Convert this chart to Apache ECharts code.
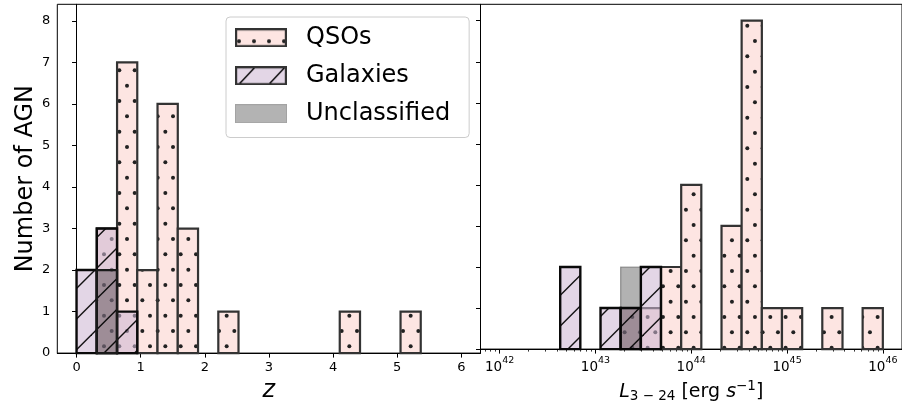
<!DOCTYPE html>
<html><head><meta charset="utf-8">
<script src="https://cdn.jsdelivr.net/npm/echarts@6/dist/echarts.min.js"></script>
<style>html,body{margin:0;padding:0;background:#fff}#c{width:902px;height:408px}</style>
</head><body><div id="c"></div>
<script>
// ---- data ----
const zEdges = [0, 0.316, 0.632, 0.947, 1.263, 1.579, 1.895, 2.211, 2.526, 2.842, 3.158, 3.474, 3.789, 4.105, 4.421, 4.737, 5.053, 5.368, 5.684, 6.0];
const zQSO  = [0, 3, 7, 2, 6, 3, 0, 1, 0, 0, 0, 0, 0, 1, 0, 0, 1, 0, 0];
const zGal  = [2, 3, 1, 0, 0, 0, 0, 0, 0, 0, 0, 0, 0, 0, 0, 0, 0, 0, 0];
const zUnc  = [0, 2, 0, 0, 0, 0, 0, 0, 0, 0, 0, 0, 0, 0, 0, 0, 0, 0, 0];
const logLEdges = [42.000, 42.211, 42.421, 42.632, 42.842, 43.053, 43.263, 43.474, 43.684, 43.895, 44.105, 44.316, 44.526, 44.737, 44.947, 45.158, 45.368, 45.579, 45.789, 46.000];
const lQSO  = [0, 0, 0, 0, 0, 0, 1, 1, 2, 4, 0, 3, 8, 1, 1, 0, 1, 0, 1];
const lGal  = [0, 0, 0, 2, 0, 1, 1, 2, 0, 0, 0, 0, 0, 0, 0, 0, 0, 0, 0];
const lUnc  = [0, 0, 0, 0, 0, 0, 2, 0, 0, 0, 0, 0, 0, 0, 0, 0, 0, 0, 0];
const zTicks = [0, 1, 2, 3, 4, 5, 6];
const yTicks = [0, 1, 2, 3, 4, 5, 6, 7, 8];
const lTicks = [42, 43, 44, 45, 46];
const seriesNames = ['QSOs', 'Galaxies', 'Unclassified'];

// minor log ticks (axis scale, not data)
const lMinor = [];
for (let d = 41; d <= 45; d++) for (let k = 2; k <= 9; k++) { const v = d + Math.log10(k); if (v > 41.8 && v < 46.2) lMinor.push(v); }

// ---- hatch tiles ----
const S = 92;
function dotsTile(bg, dot, x0, y0) {
  const c = document.createElement('canvas'); c.width = S; c.height = S;
  const g = c.getContext('2d'); g.fillStyle = bg; g.fillRect(0, 0, S, S);
  g.fillStyle = dot; const p = S / 6;
  for (let r = -2; r <= 8; r++) {
    const y = y0 + r * p; const xs = (r % 2 === 0) ? x0 : x0 - p / 2;
    for (let i = -2; i <= 8; i++) { g.beginPath(); g.arc(xs + i * p, y, 2.0, 0, 2 * Math.PI); g.fill(); }
  }
  return c;
}
function slashTile(bg, line, c0) {
  const c = document.createElement('canvas'); c.width = S; c.height = S;
  const g = c.getContext('2d'); g.fillStyle = bg; g.fillRect(0, 0, S, S);
  g.strokeStyle = line; g.lineWidth = 1.4; const p = S / 3;
  for (let k = -4; k <= 10; k++) {
    const cc = c0 + k * p; g.beginPath(); g.moveTo(-20, cc + 20); g.lineTo(cc + 20, -20); g.stroke();
  }
  return c;
}
const QSO_BG = '#fde5e2', GAL_BG = 'rgba(206,183,211,0.57)', UNC_BG = 'rgba(0,0,0,0.3)';
const tiles = {
  qL: dotsTile(QSO_BG, '#222', 12, 9), qR: dotsTile(QSO_BG, '#222', 11.3, 25.7),
  gL: slashTile(GAL_BG, 'rgba(0,0,0,0.92)', 27.6), gR: slashTile(GAL_BG, 'rgba(0,0,0,0.92)', 27.6)
};
function pat(t) { return { image: t, repeat: 'repeat' }; }

function hist(name, edges, counts, xi, yi, fill, stroke, lw) {
  const data = [];
  counts.forEach((c, i) => { if (c > 0) data.push([edges[i], edges[i + 1], c]); });
  return {
    type: 'custom', name, xAxisIndex: xi, yAxisIndex: yi, data, silent: true, animation: false,
    encode: { x: [0, 1], y: 2 },
    renderItem(params, api) {
      const a = api.coord([api.value(0), api.value(2)]);
      const b = api.coord([api.value(1), 0]);
      const shape = { x: a[0], y: a[1], width: b[0] - a[0], height: b[1] - a[1] };
      return { type: 'group', children: [
        { type: 'rect', shape, style: { fill, stroke: null } },
        { type: 'rect', shape, style: { fill: 'none', stroke, lineWidth: lw } }
      ] };
    }
  };
}

// legend icons
function icon(kind) {
  const w = 52, h = 19, c = document.createElement('canvas'); c.width = w; c.height = h;
  const g = c.getContext('2d');
  if (kind === 0) {
    g.fillStyle = QSO_BG; g.fillRect(0, 0, w, h); g.fillStyle = '#222';
    [4, 19, 34, 49].forEach(x => { g.beginPath(); g.arc(x, 13, 2.0, 0, 2 * Math.PI); g.fill(); });
    g.strokeStyle = '#333'; g.lineWidth = 2.2; g.strokeRect(1.1, 1.1, w - 2.2, h - 2.2);
  } else if (kind === 1) {
    g.fillStyle = GAL_BG; g.fillRect(0, 0, w, h);
    g.strokeStyle = '#000'; g.lineWidth = 1.4;
    [[4, 18, 20, 1], [34, 18, 50, 1]].forEach(l => { g.beginPath(); g.moveTo(l[0], l[1]); g.lineTo(l[2], l[3]); g.stroke(); });
    g.strokeStyle = '#333'; g.lineWidth = 2.2; g.strokeRect(1.1, 1.1, w - 2.2, h - 2.2);
  } else {
    g.fillStyle = '#b3b3b3'; g.fillRect(0, 0, w, h);
    g.strokeStyle = '#a3a3a3'; g.lineWidth = 1; g.strokeRect(0.5, 0.5, w - 1, h - 1);
  }
  return 'image://' + c.toDataURL();
}

const FONT = 'DejaVu Sans';
const tickStyle = { show: true, inside: false, length: 4.5, lineStyle: { color: '#000', width: 1 } };
const lineStyle = { show: true, lineStyle: { color: '#000', width: 1 } };

const chart = echarts.init(document.getElementById('c'), null, { renderer: 'canvas', width: 902, height: 408 });
chart.setOption({
  animation: false,
  backgroundColor: '#fff',
  grid: [
    { left: 57.3, top: 4.3, width: 423.2, height: 350.7, show: true, borderColor: '#000', borderWidth: 1, backgroundColor: 'transparent' },
    { left: 480.5, top: 4.3, width: 422.5, height: 350.7, show: true, borderColor: '#000', borderWidth: 1, backgroundColor: 'transparent' }
  ],
  xAxis: [
    { type: 'value', gridIndex: 0, min: -0.3, max: 6.3, position: 'bottom', splitLine: { show: false }, axisLine: lineStyle,
      axisTick: Object.assign({ customValues: zTicks }, tickStyle),
      axisLabel: { customValues: zTicks, margin: 8, fontFamily: FONT, fontSize: 13, color: '#000' },
      name: 'z', nameLocation: 'middle', nameGap: 25,
      nameTextStyle: { fontFamily: FONT, fontStyle: 'italic', fontSize: 24, color: '#000' } },
    { type: 'value', gridIndex: 1, min: 41.8, max: 46.2, position: 'bottom', splitLine: { show: false }, axisLine: lineStyle,
      axisTick: Object.assign({ customValues: lTicks }, tickStyle),
      axisLabel: { customValues: lTicks, margin: 5, fontFamily: FONT, fontSize: 13.5, color: '#000',
        formatter: v => '{b|10}{s|' + v + '}',
        rich: { b: { fontSize: 13.5, fontFamily: FONT, color: '#000', lineHeight: 26 },
                s: { fontSize: 9.5, fontFamily: FONT, color: '#000', padding: [0, 0, 13, 0] } } },
      name: '{i|L}{sub|3 − 24}{n| [erg }{i|s}{sup|−1}{n|]}', nameLocation: 'middle', nameGap: 22,
      nameTextStyle: { fontFamily: FONT, color: '#000', fontSize: 19,
        rich: { i: { fontFamily: FONT, fontStyle: 'italic', fontSize: 19, color: '#000' },
                n: { fontFamily: FONT, fontSize: 19, color: '#000' },
                sub: { fontFamily: FONT, fontSize: 13.5, color: '#000', padding: [8, 0, 0, 0] },
                sup: { fontFamily: FONT, fontSize: 13.5, color: '#000', padding: [0, 0, 12, 0] } } } },
    { type: 'value', gridIndex: 1, min: 41.8, max: 46.2, position: 'bottom', splitLine: { show: false },
      axisLine: { show: false }, axisLabel: { show: false },
      axisTick: { show: true, customValues: lMinor, inside: false, length: 2.5, lineStyle: { color: '#000', width: 0.8 } } }
  ],
  yAxis: [
    { type: 'value', gridIndex: 0, min: 0, max: 8.4, splitLine: { show: false }, axisLine: lineStyle,
      axisTick: Object.assign({ customValues: yTicks }, tickStyle),
      axisLabel: { customValues: yTicks, margin: 7, fontFamily: FONT, fontSize: 13, color: '#000' },
      name: 'Number of AGN', nameLocation: 'middle', nameGap: 17,
      nameTextStyle: { fontFamily: FONT, fontSize: 24, color: '#000' } },
    { type: 'value', gridIndex: 1, min: 0, max: 8.4, splitLine: { show: false }, axisLine: lineStyle,
      axisTick: Object.assign({ customValues: yTicks }, tickStyle),
      axisLabel: { show: false } }
  ],
  legend: {
    left: 226, top: 17, orient: 'vertical', selectedMode: false,
    itemWidth: 52, itemHeight: 19, itemGap: 14, padding: [8.75, 19, 11.75, 9],
    backgroundColor: 'rgba(255,255,255,0.8)', borderColor: '#cccccc', borderWidth: 1, borderRadius: 4,
    textStyle: { fontFamily: FONT, fontSize: 24, color: '#000', padding: [0, 0, 0, 14], lineHeight: 19 },
    data: seriesNames.map((n, i) => ({ name: n, icon: icon(i) }))
  },
  series: [
    hist('QSOs', zEdges, zQSO, 0, 0, pat(tiles.qL), '#333', 2.2),
    hist('Galaxies', zEdges, zGal, 0, 0, pat(tiles.gL), '#0a0a0a', 2.4),
    hist('Unclassified', zEdges, zUnc, 0, 0, UNC_BG, '#1a1a1a', 2.2),
    hist('QSOs', logLEdges, lQSO, 1, 1, pat(tiles.qR), '#333', 2.2),
    hist('Galaxies', logLEdges, lGal, 1, 1, pat(tiles.gR), '#0a0a0a', 2.4),
    hist('Unclassified', logLEdges, lUnc, 1, 1, UNC_BG, 'rgba(0,0,0,0.35)', 1.2)
  ]
});
</script></body></html>
